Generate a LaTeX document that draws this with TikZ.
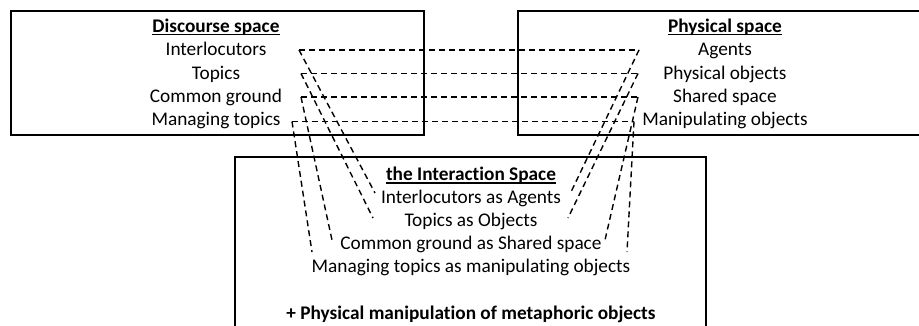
\documentclass[tikz,border=0pt]{standalone}
\usepackage{fontspec}
\setmainfont{Carlito}[Ligatures={NoCommon,NoRare,NoContextual}]
\begin{document}
\begin{tikzpicture}[x=1pt,y=-1pt,
  frame/.style={line width=2.2pt},
  lbl/.style={anchor=base,inner sep=0pt,font=\fontsize{19.3}{23}\selectfont},
  head/.style={anchor=base,inner sep=0pt,font=\fontsize{19.3}{23}\selectfont\bfseries},
  link/.style={dash pattern=on 6pt off 4pt,line width=1.4pt},
  uline/.style={line width=1.1pt}]
\useasboundingbox (0,0) rectangle (919,326);
\clip (0,0) rectangle (919,326);

% frames of the three spaces
\draw[frame] (11,11) rectangle (424,135);
\draw[frame] (518,11) rectangle (940,135);
\draw[frame] (235,157) rectangle (706,345);

% discourse space
\node[head] (dh) at (216,32.5) {Discourse space};
\node[lbl] (d1) at (216,56) {Interlocutors};
\node[lbl] (d2) at (216,79.5) {Topics};
\node[lbl] (d3) at (216,102.5) {Common ground};
\node[lbl] (d4) at (216,125.5) {Managing topics};

% physical space
\node[head] (ph) at (725,32.5) {Physical space};
\node[lbl] (p1) at (725,56) {Agents};
\node[lbl] (p2) at (725,79.5) {Physical objects};
\node[lbl] (p3) at (725,102.5) {Shared space};
\node[lbl] (p4) at (725,125.5) {Manipulating objects};

% interaction space
\node[head] (ih) at (471,181) {the Interaction Space};
\node[lbl] (i1) at (471,203.5) {Interlocutors as Agents};
\node[lbl] (i2) at (471,226.5) {Topics as Objects};
\node[lbl] (i3) at (471,249.5) {Common ground as Shared space};
\node[lbl] (i4) at (471,272.5) {Managing topics as manipulating objects};
\node[head] (ix) at (471,319.5) {+ Physical manipulation of metaphoric objects};

% heading underlines
\foreach \h in {dh,ph,ih}
  \draw[uline] ([yshift=-2pt]\h.base west) -- ([yshift=-2pt]\h.base east);

% end points of the mapping lines
\coordinate (l1) at (299,50);
\coordinate (l2) at (301,73.5);
\coordinate (l3) at (301,97);
\coordinate (l4) at (292,121.5);
\coordinate (r1) at (639,50);
\coordinate (r2) at (638,73.5);
\coordinate (r3) at (638,97);
\coordinate (r4) at (634,121.5);
\coordinate (b1l) at (375,193);
\coordinate (b1r) at (571,192);
\coordinate (b2l) at (373,218);
\coordinate (b2r) at (568,218);
\coordinate (b3l) at (332,240);
\coordinate (b3r) at (605,240);
\coordinate (b4l) at (312,252);
\coordinate (b4r) at (627,252);

% mappings between the spaces
\foreach \k in {1,2,3,4}{
  \draw[link] (l\k) -- (r\k);
  \draw[link] (l\k) -- (b\k l);
  \draw[link] (r\k) -- (b\k r);
}
\end{tikzpicture}
\end{document}
